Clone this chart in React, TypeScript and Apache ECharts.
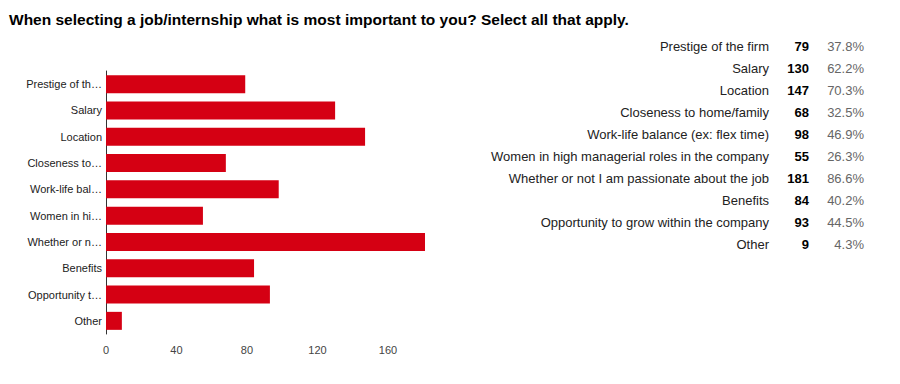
import React, { useEffect, useRef } from "react";
import * as echarts from "echarts";

const TITLE = "When selecting a job/internship what is most important to you? Select all that apply.";
const categories = [
  "Prestige of the firm",
  "Salary",
  "Location",
  "Closeness to home/family",
  "Work-life balance (ex: flex time)",
  "Women in high managerial roles in the company",
  "Whether or not I am passionate about the job",
  "Benefits",
  "Opportunity to grow within the company",
  "Other",
];
const shortLabels = [
  "Prestige of th…",
  "Salary",
  "Location",
  "Closeness to…",
  "Work-life bal…",
  "Women in hi…",
  "Whether or n…",
  "Benefits",
  "Opportunity t…",
  "Other",
];
const counts = [79, 130, 147, 68, 98, 55, 181, 84, 93, 9];
const percents = ["37.8%", "62.2%", "70.3%", "32.5%", "46.9%", "26.3%", "86.6%", "40.2%", "44.5%", "4.3%"];

const FONT = "'Liberation Sans', Arial, sans-serif";

export default function App() {
  const ref = useRef<HTMLDivElement>(null);
  useEffect(() => {
    if (!ref.current) return;
    const chart = echarts.init(ref.current, null, { renderer: "svg" });
    const tableTexts: any[] = [];
    categories.forEach((c, i) => {
      const y = 38 + i * 22;
      tableTexts.push({
        type: "text",
        x: 761,
        y,
        style: { text: c, fill: "#222", font: `13px ${FONT}`, align: "right", verticalAlign: "middle" },
      });
      tableTexts.push({
        type: "text",
        x: 801,
        y,
        style: { text: String(counts[i]), fill: "#000", font: `bold 13px ${FONT}`, align: "right", verticalAlign: "middle" },
      });
      tableTexts.push({
        type: "text",
        x: 856,
        y,
        style: { text: percents[i], fill: "#666", font: `13px ${FONT}`, align: "right", verticalAlign: "middle" },
      });
    });
    chart.setOption({
      animation: false,
      title: {
        text: TITLE,
        left: 1,
        top: 3,
        padding: 0,
        textStyle: { fontFamily: FONT, fontSize: 15.5, fontWeight: "bold", color: "#000" },
      },
      grid: { left: 98, top: 63, width: 319, height: 263, containLabel: false },
      xAxis: {
        type: "value",
        min: 0,
        max: 181,
        interval: 40,
        axisLine: { show: false },
        axisTick: { show: false },
        splitLine: { show: false },
        axisLabel: { showMaxLabel: false, color: "#444", fontFamily: FONT, fontSize: 11, margin: 10 },
      },
      yAxis: {
        type: "category",
        inverse: true,
        data: shortLabels,
        axisLine: { show: true, lineStyle: { color: "#333", width: 1 } },
        axisTick: { show: false },
        axisLabel: { color: "#222", fontFamily: FONT, fontSize: 11, margin: 4 },
      },
      series: [
        {
          type: "bar",
          data: counts,
          barWidth: 18,
          itemStyle: { color: "#d50013" },
        },
      ],
      graphic: tableTexts,
    });
    return () => chart.dispose();
  }, []);
  return <div ref={ref} style={{ width: 884, height: 368 }} />;
}
